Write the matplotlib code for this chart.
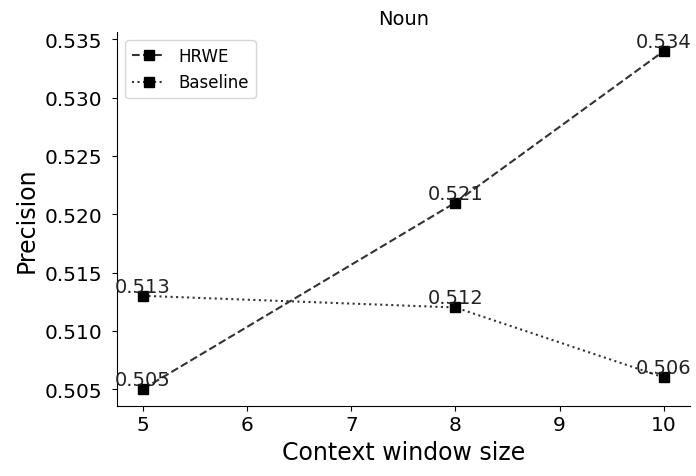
import matplotlib
matplotlib.use("Agg")
import matplotlib.pyplot as plt

window_sizes = [5, 8, 10]
hrwe = [0.505, 0.521, 0.534]
baseline = [0.513, 0.512, 0.506]

fig = plt.figure(figsize=(6.96, 4.77), dpi=100)
ax = fig.add_axes([0.168, 0.1474, 0.823, 0.7834])

ax.plot(window_sizes, hrwe, linestyle='--', color='#333333', marker='s',
        markerfacecolor='black', markeredgecolor='black', markersize=7.5, label='HRWE', linewidth=1.5)
ax.plot(window_sizes, baseline, linestyle=':', color='#333333', marker='s',
        markerfacecolor='black', markeredgecolor='black', markersize=7.5, label='Baseline', linewidth=1.5)

for xs, ys in [(window_sizes, hrwe), (window_sizes, baseline)]:
    for x, y in zip(xs, ys):
        ax.text(x, y, f'{y:.3f}', ha='center', va='bottom', fontsize=14, color='#222222')

ax.set_ylim(0.50357, 0.53564)
ax.set_title('Noun', fontsize=14)
ax.set_xlabel('Context window size', fontsize=17)
ax.set_ylabel('Precision', fontsize=17)
ax.tick_params(labelsize=14.5)
ax.tick_params(axis='y', pad=7)
ax.spines['top'].set_visible(False)
ax.spines['right'].set_visible(False)
ax.legend(loc='upper left', fontsize=12)

fig.savefig('out.png', dpi=100)
